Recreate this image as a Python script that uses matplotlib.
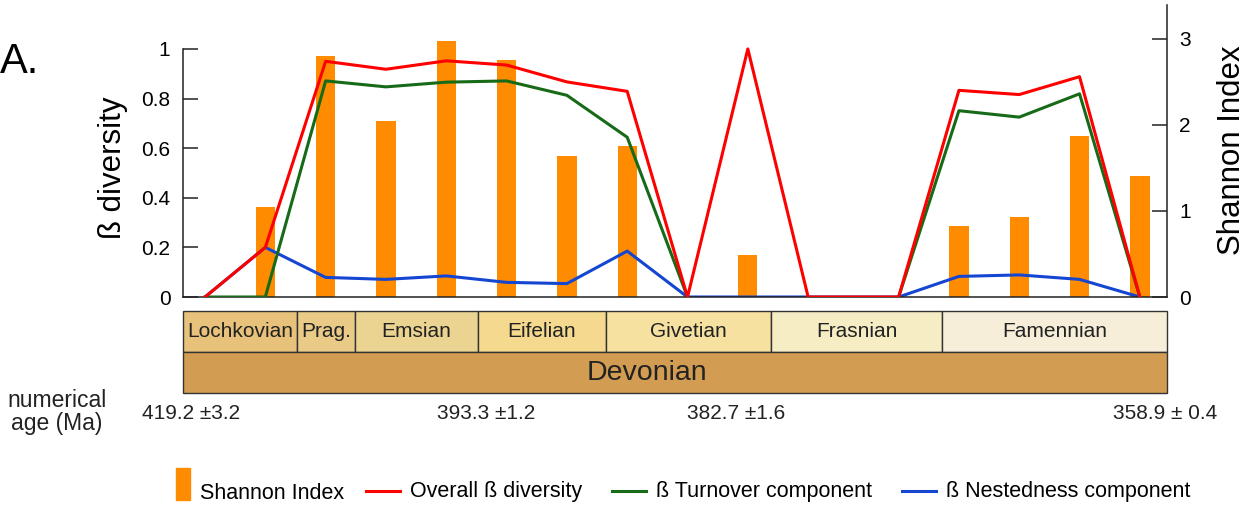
import numpy as np
import matplotlib
matplotlib.use("Agg")
import matplotlib.pyplot as plt
from matplotlib.patches import Rectangle
from matplotlib.lines import Line2D

plt.rcParams["font.family"] = ["Liberation Sans", "DejaVu Sans"]

nan = np.nan

# sample positions along the section (gap between the last Frasnian samples)
x_pos = [0, 1, 2, 3, 4, 5, 6, 7, 8, 9, 10, 11.5, 12.5, 13.5, 14.5, 15.5]
overall = [0, 0.2, 0.95, 0.918, 0.952, 0.935, 0.867, 0.829, 0, 1.0, 0, 0, 0.833, 0.816, 0.888, 0]
turnover = [0, 0, 0.871, 0.847, 0.866, 0.871, 0.813, 0.644, 0, nan, nan, 0, 0.751, 0.725, 0.819, 0]
nestedness = [0, 0.2, 0.079, 0.071, 0.085, 0.059, 0.054, 0.185, 0, 0, 0, 0, 0.083, 0.089, 0.071, 0]
shannon = [nan, 1.04, 2.80, 2.04, 2.97, 2.75, 1.64, 1.75, nan, 0.49, nan, nan, 0.83, 0.93, 1.87, 1.41]

left_ticks = [0, 0.2, 0.4, 0.6, 0.8, 1]
left_ticklabels = ["0", "0.2", "0.4", "0.6", "0.8", "1"]
right_ticks = [0, 1, 2, 3]

stages = ["Lochkovian", "Prag.", "Emsian", "Eifelian", "Givetian", "Frasnian", "Famennian"]
stage_edges = [0, 114, 172, 295, 423, 588, 759, 984]
stage_colors = ["#E8C17A", "#E9CB87", "#EBD491", "#F4D98F", "#F6E1A0", "#F6EDC4", "#F6EED8"]
period = "Devonian"
period_color = "#D29D52"

ages = ["419.2 \u00b13.2", "393.3 \u00b11.2", "382.7 \u00b11.6", "358.9 \u00b1 0.4"]
age_px = [191, 486, 736, 1165]

W, H = 1248, 511


def fx(px):
    return px / W


def fy(py):
    return 1 - py / H


fig = plt.figure(figsize=(W / 100, H / 100), dpi=100)

ax = fig.add_axes([fx(183), fy(297), fx(1167) - fx(183), (297 - 5) / H])
ax2 = ax.twinx()
ax.set_zorder(ax2.get_zorder() + 1)
ax.patch.set_visible(False)

ax2.bar(x_pos, shannon, width=0.32, color="#FF8C00", zorder=1)
ax.plot(x_pos, nestedness, color="#1446D2", lw=2.2, zorder=2)
ax.plot(x_pos, turnover, color="#176A17", lw=2.2, zorder=3)
ax.plot(x_pos, overall, color="#FF0000", lw=2.2, zorder=4)

ax.set_xlim(-0.365, 15.95)
ax.set_ylim(0, 1.177)
ax2.set_ylim(0, 3.391)

for s in ["top", "right"]:
    ax.spines[s].set_visible(False)
for s in ["top", "left", "bottom"]:
    ax2.spines[s].set_visible(False)
ax.spines["left"].set_bounds(0, 1)
for sp in [ax.spines["left"], ax.spines["bottom"], ax2.spines["right"]]:
    sp.set_linewidth(1.1)
    sp.set_color("#222222")

ax.set_xticks([])
ax.set_yticks(left_ticks)
ax.set_yticklabels(left_ticklabels)
ax.tick_params(axis="y", direction="in", length=11, width=1.1, labelsize=15, pad=9, color="#222222")
ax2.set_yticks(right_ticks)
ax2.tick_params(axis="y", direction="in", length=11, width=1.1, labelsize=15, pad=9, color="#222222")

fig.text(fx(113), fy(168), "\u00df diversity", rotation=90, ha="center", va="center", fontsize=22.5)
fig.text(fx(1232), fy(150), "Shannon Index", rotation=90, ha="center", va="center", fontsize=22.5)
fig.text(0.0, fy(62), "A.", ha="left", va="center", fontsize=30)

# geological time scale
ts = fig.add_axes([fx(183), fy(393), fx(1167) - fx(183), (393 - 311) / H])
ts.set_xlim(0, 984)
ts.set_ylim(0, 2)
ts.axis("off")
for name, x0, x1, c in zip(stages, stage_edges[:-1], stage_edges[1:], stage_colors):
    ts.add_patch(Rectangle((x0, 1), x1 - x0, 1, facecolor=c, edgecolor="#333333", lw=1, clip_on=False))
    ts.text((x0 + x1) / 2, 1.5, name, ha="center", va="center", fontsize=15, color="#222222")
ts.add_patch(Rectangle((0, 0), 984, 1, facecolor=period_color, edgecolor="#333333", lw=1, clip_on=False))
ts.text(464, 0.5, period, ha="center", va="center", fontsize=20.5, color="#222222")

fig.text(fx(57), fy(412), "numerical\nage (Ma)", ha="center", va="center", fontsize=16.5,
         multialignment="center", linespacing=1.0, color="#222222")
for lab, px in zip(ages, age_px):
    fig.text(fx(px), fy(413), lab, ha="center", va="center", fontsize=15, color="#222222")

# legend
fig.add_artist(Rectangle((fx(176), fy(500)), fx(14), (500 - 468) / H, color="#FF8C00", transform=fig.transFigure))
fig.text(fx(200), fy(493), "Shannon Index", ha="left", va="center", fontsize=15.5)
leg_items = [("#FF0000", "Overall \u00df diversity", 366), ("#176A17", "\u00df Turnover component", 612),
             ("#1446D2", "\u00df Nestedness component", 902)]
for c, lab, px in leg_items:
    fig.add_artist(Line2D([fx(px), fx(px + 34)], [fy(491), fy(491)], color=c, lw=2.2, transform=fig.transFigure))
    fig.text(fx(px + 44), fy(492), lab, ha="left", va="center", fontsize=15.5)

fig.savefig("out.png", dpi=100)
